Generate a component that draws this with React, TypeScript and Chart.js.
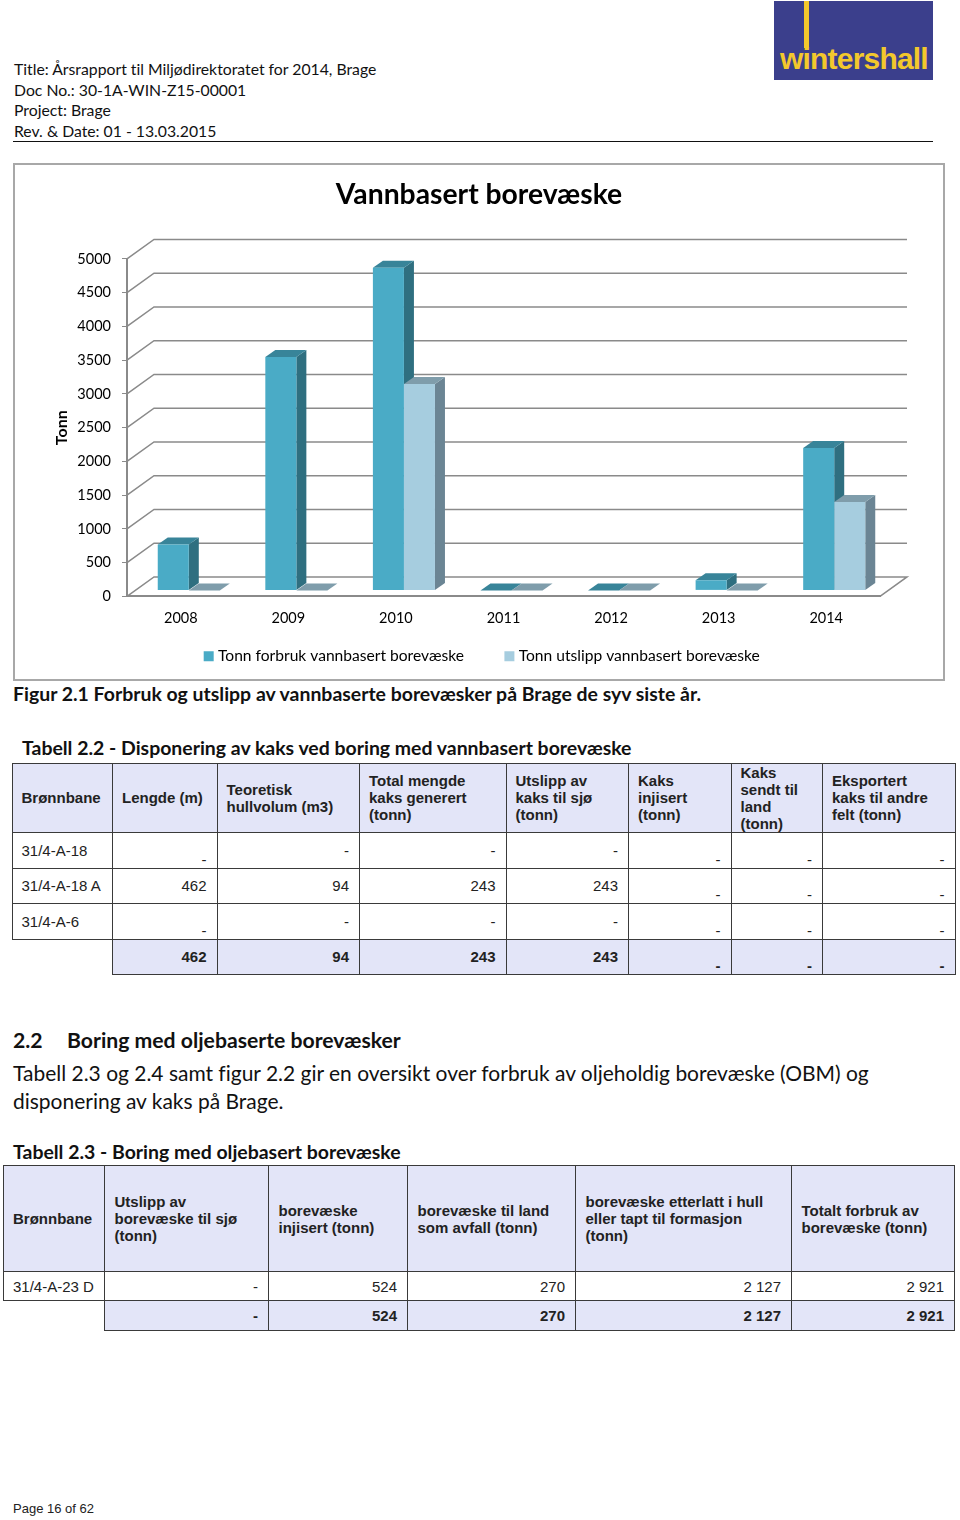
import React, { useEffect, useRef } from "react";
import { Chart, registerables } from "chart.js";

Chart.register(...registerables);

const years = ["2008", "2009", "2010", "2011", "2012", "2013", "2014"];
const forbruk = [680, 3460, 4780, 0, 0, 150, 2110];
const utslipp = [0, 0, 3060, 0, 0, 0, 1310];
const seriesNames = ["Tonn forbruk vannbasert borevæske", "Tonn utslipp vannbasert borevæske"];

const headerLines = [
  "Title: Årsrapport til Miljødirektoratet for 2014, Brage",
  "Doc No.: 30-1A-WIN-Z15-00001",
  "Project:  Brage",
  "Rev. & Date: 01 - 13.03.2015",
];

const t1Head = [
  "Brønnbane",
  "Lengde (m)",
  "Teoretisk\nhullvolum (m3)",
  "Total mengde\nkaks generert\n(tonn)",
  "Utslipp av\nkaks til sjø\n(tonn)",
  "Kaks\ninjisert\n(tonn)",
  "Kaks\nsendt til\nland\n(tonn)",
  "Eksportert\nkaks til andre\nfelt (tonn)",
];
const t1Rows = [
  ["31/4-A-18", "-", "-", "-", "-", "-", "-", "-"],
  ["31/4-A-18 A", "462", "94", "243", "243", "-", "-", "-"],
  ["31/4-A-6", "-", "-", "-", "-", "-", "-", "-"],
];
const t1Total = ["", "462", "94", "243", "243", "-", "-", "-"];
const t1Cols = [100.5, 104.5, 142.5, 146.5, 122.5, 102.5, 91.5, 132.5];
const t1RowH = [69, 36, 35, 36, 35];
const t1LowDash = [1, 5, 6, 7];

const t2Head = [
  "Brønnbane",
  "Utslipp av\nborevæske til sjø\n(tonn)",
  "borevæske\ninjisert (tonn)",
  "borevæske til land\nsom avfall (tonn)",
  "borevæske etterlatt i hull\neller tapt til formasjon\n(tonn)",
  "Totalt forbruk av\nborevæske (tonn)",
];
const t2Rows = [["31/4-A-23 D", "-", "524", "270", "2 127", "2 921"]];
const t2Total = ["", "-", "524", "270", "2 127", "2 921"];
const t2Cols = [101.5, 164, 139, 168, 216, 163];
const t2RowH = [106, 29, 30];

const WALL = { x: 27, y: -19.5 };
const SHIFT = { x: 8, y: -6 };
const DEPTH = { x: 10, y: -7 };
const GRID = "#8a8a8a";
const faces = [
  { front: "#4aabc6", side: "#2f6f80", top: "#388499" },
  { front: "#a6cddf", side: "#6b8594", top: "#7f9dab" },
];

const poly = (ctx: CanvasRenderingContext2D, pts: number[][], fill: string) => {
  ctx.beginPath();
  pts.forEach((p, i) => (i ? ctx.lineTo(p[0], p[1]) : ctx.moveTo(p[0], p[1])));
  ctx.closePath();
  ctx.fillStyle = fill;
  ctx.fill();
};

const box3d = {
  id: "box3d",
  afterLayout(chart: any) {
    chart.scales.x.bottom += 30;
    chart.titleBlock.right += 65;
    chart.legend.right += 74;
  },
  beforeDatasetsDraw(chart: any) {
    const { ctx, chartArea: a, scales } = chart;
    ctx.save();
    ctx.strokeStyle = GRID;
    ctx.lineWidth = 1.5;
    scales.y.ticks.forEach((t: any) => {
      const y = scales.y.getPixelForValue(t.value);
      ctx.beginPath();
      ctx.moveTo(a.left, y);
      ctx.lineTo(a.left + WALL.x, y + WALL.y);
      ctx.lineTo(a.right + WALL.x, y + WALL.y);
      if (t.value === 0) ctx.lineTo(a.right, y);
      ctx.stroke();
    });
    ctx.translate(SHIFT.x, SHIFT.y);
    [0, 1].forEach((d) => {
      chart.getDatasetMeta(d).data.forEach((el: any) => {
        const l = el.x - el.width / 2;
        const r = el.x + el.width / 2;
        poly(ctx, [[r, el.y], [r + DEPTH.x, el.y + DEPTH.y], [r + DEPTH.x, el.base + DEPTH.y], [r, el.base]], faces[d].side);
        poly(ctx, [[l, el.y], [l + DEPTH.x, el.y + DEPTH.y], [r + DEPTH.x, el.y + DEPTH.y], [r, el.y]], faces[d].top);
      });
    });
    ctx.restore();
  },
  beforeDatasetDraw(chart: any) {
    chart.ctx.save();
    chart.ctx.translate(SHIFT.x, SHIFT.y);
  },
  afterDatasetDraw(chart: any) {
    chart.ctx.restore();
  },
};

const abs = (left: number, top: number, extra: React.CSSProperties = {}): React.CSSProperties => ({
  position: "absolute",
  left,
  top,
  whiteSpace: "nowrap",
  ...extra,
});

const LATO = "Lato, sans-serif";
const ARIAL = '"Liberation Sans", Arial, sans-serif';
const HEAD_BG = "#e3e5f8";
const LINE = "1px solid #3a3a3a";

function DataTable(props: {
  left: number;
  top: number;
  cols: number[];
  rowH: number[];
  head: string[];
  rows: string[][];
  total: string[];
  lowDash: number[];
  padLeft: number;
}) {
  const { left, top, cols, rowH, head, rows, total, lowDash, padLeft } = props;
  const width = cols.reduce((s, c) => s + c, 0);
  const base: React.CSSProperties = { border: LINE, padding: `0 10px 0 ${padLeft}px`, lineHeight: "17px", overflow: "visible" };
  return (
    <table
      style={{
        position: "absolute",
        left,
        top,
        width,
        tableLayout: "fixed",
        borderCollapse: "collapse",
        fontFamily: ARIAL,
        fontSize: 15,
        color: "#222",
      }}
    >
      <colgroup>
        {cols.map((c, i) => (
          <col key={i} style={{ width: c }} />
        ))}
      </colgroup>
      <tbody>
        <tr style={{ height: rowH[0] }}>
          {head.map((h, i) => (
            <th key={i} style={{ ...base, background: HEAD_BG, textAlign: "left", fontWeight: 700, whiteSpace: "pre-line" }}>
              {h}
            </th>
          ))}
        </tr>
        {rows.map((r, ri) => (
          <tr key={ri} style={{ height: rowH[ri + 1] }}>
            {r.map((v, i) => (
              <td
                key={i}
                style={{
                  ...base,
                  textAlign: i === 0 ? "left" : "right",
                  verticalAlign: v === "-" && lowDash.includes(i) ? "bottom" : "middle",
                  whiteSpace: "nowrap",
                }}
              >
                {v}
              </td>
            ))}
          </tr>
        ))}
        <tr style={{ height: rowH[rowH.length - 1] }}>
          {total.map((v, i) =>
            i === 0 ? (
              <td key={i} style={{ border: "none" }} />
            ) : (
              <td
                key={i}
                style={{
                  ...base,
                  background: HEAD_BG,
                  fontWeight: 700,
                  textAlign: "right",
                  verticalAlign: v === "-" && lowDash.includes(i) ? "bottom" : "middle",
                }}
              >
                {v}
              </td>
            )
          )}
        </tr>
      </tbody>
    </table>
  );
}

export default function App() {
  const ref = useRef<HTMLCanvasElement | null>(null);
  useEffect(() => {
    if (!ref.current) return;
    const chart = new Chart(ref.current, {
      type: "bar",
      plugins: [box3d],
      data: {
        labels: years,
        datasets: [
          { label: seriesNames[0], data: forbruk, backgroundColor: faces[0].front, borderWidth: 0, clip: false } as any,
          { label: seriesNames[1], data: utslipp, backgroundColor: faces[1].front, borderWidth: 0, clip: false } as any,
        ],
      },
      options: {
        animation: false,
        responsive: false,
        events: [],
        layout: { padding: { left: 0, right: 65, top: 0, bottom: 8 }, autoPadding: false },
        datasets: { bar: { barPercentage: 1, categoryPercentage: 0.577 } },
        plugins: {
          tooltip: { enabled: false },
          title: {
            display: true,
            text: "Vannbasert borevæske",
            color: "#000",
            font: { family: LATO, size: 28.3, weight: "bold" },
            padding: { top: 15, bottom: 47 },
          },
          legend: {
            position: "bottom",
            labels: {
              color: "#000",
              font: { family: LATO, size: 15.6 },
              usePointStyle: true,
              pointStyle: "rect",
              boxWidth: 3,
              boxHeight: 10,
              padding: 44,
            },
          },
        },
        scales: {
          x: {
            grid: { display: false },
            border: { color: GRID, width: 2 },
            ticks: { color: "#000", padding: 5, font: { family: LATO, size: 14.5 } },
            afterFit: (s: any) => {
              s.height = 8;
            },
          },
          y: {
            min: 0,
            max: 5000,
            grid: { drawOnChartArea: false, drawTicks: true, tickLength: 5, color: GRID },
            border: { color: GRID, width: 2 },
            ticks: { stepSize: 500, color: "#000", padding: 11, font: { family: LATO, size: 14.5 }, callback: (v: any) => String(v) },
            title: {
              display: true,
              text: "Tonn",
              color: "#000",
              font: { family: LATO, size: 16, weight: "bold" },
              padding: { top: 39.5, bottom: 0 },
            },
            afterFit: (s: any) => {
              s.width = 114;
            },
          },
        },
      } as any,
    });
    return () => chart.destroy();
  }, []);

  return (
    <div style={{ position: "absolute", left: 0, top: 0, width: 960, height: 1520, background: "#fff", overflow: "hidden", fontFamily: LATO, color: "#111", fontVariantLigatures: "none" }}>
      {headerLines.map((t, i) => (
        <div key={i} style={abs(14, 59 + i * 20.6, { fontSize: 15.77, lineHeight: "20px" })}>
          {t}
        </div>
      ))}
      <div style={abs(774, 1, { width: 159, height: 79, background: "#3b3f8c", overflow: "hidden" })}>
        <div style={abs(30, 0, { width: 5, height: 47, background: "#f3c82c" })} />
        <div style={abs(6, 41, { fontFamily: ARIAL, fontWeight: 700, fontSize: 30, letterSpacing: -0.8, lineHeight: "34px", color: "#f3c82c" })}>
          wintershall
        </div>
      </div>
      <div style={abs(13, 141, { width: 920, height: 1, background: "#111" })} />

      <div style={abs(13, 163, { width: 932, height: 518, boxSizing: "border-box", border: "2px solid #a8a8a8" })} />
      <canvas ref={ref} width={932} height={519} style={{ position: "absolute", left: 13, top: 163 }} />

      <div style={abs(13, 683, { fontSize: 19.46, fontWeight: 700, lineHeight: "22px" })}>
        Figur 2.1 Forbruk og utslipp av vannbaserte borevæsker på Brage de syv siste år.
      </div>
      <div style={abs(22, 737, { fontSize: 19.44, fontWeight: 700, lineHeight: "22px" })}>
        Tabell 2.2 - Disponering av kaks ved boring med vannbasert borevæske
      </div>
      <DataTable left={11.5} top={762.5} cols={t1Cols} rowH={t1RowH} head={t1Head} rows={t1Rows} total={t1Total} lowDash={t1LowDash} padLeft={9} />

      <div style={abs(13, 1028, { fontSize: 21.2, fontWeight: 700, lineHeight: "24px" })}>2.2</div>
      <div style={abs(67, 1028, { fontSize: 21.2, fontWeight: 700, lineHeight: "24px" })}>Boring med oljebaserte borevæsker</div>
      <div style={abs(13, 1061, { fontSize: 20.97, lineHeight: "24px" })}>
        Tabell 2.3 og 2.4 samt figur 2.2 gir en oversikt over forbruk av oljeholdig borevæske (OBM) og
      </div>
      <div style={abs(13, 1089, { fontSize: 20.97, lineHeight: "24px" })}>disponering av kaks på Brage.</div>
      <div style={abs(13, 1141, { fontSize: 19.44, fontWeight: 700, lineHeight: "22px" })}>Tabell 2.3 - Boring med oljebasert borevæske</div>
      <DataTable left={2.5} top={1165} cols={t2Cols} rowH={t2RowH} head={t2Head} rows={t2Rows} total={t2Total} lowDash={[]} padLeft={9.5} />

      <div style={abs(13, 1501, { fontFamily: ARIAL, fontSize: 13, lineHeight: "16px", color: "#222" })}>Page 16 of 62</div>
    </div>
  );
}
